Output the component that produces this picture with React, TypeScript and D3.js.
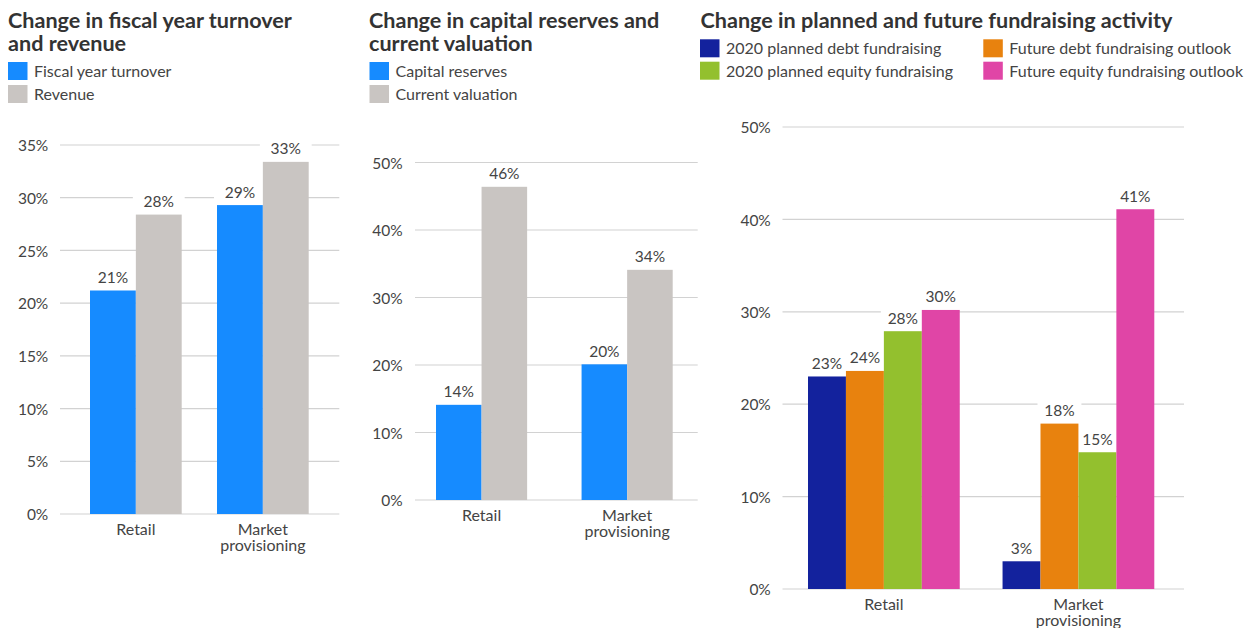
import React from "react";
import * as d3 from "d3";

// ---- Data ----
const categories = ["Retail", "Market provisioning"];

const fiscalTurnover = [21.2, 29.3];
const revenue = [28.4, 33.4];

const capitalReserves = [14.1, 20.1];
const currentValuation = [46.4, 34.1];

const plannedDebt2020 = [23.0, 3.0];
const futureDebtOutlook = [23.6, 17.9];
const plannedEquity2020 = [27.9, 14.8];
const futureEquityOutlook = [30.2, 41.1];

const ticks1 = [0, 5, 10, 15, 20, 25, 30, 35];
const ticks2 = [0, 10, 20, 30, 40, 50];
const ticks3 = [0, 10, 20, 30, 40, 50];

const FONT = "Lato, 'Open Sans', sans-serif";
const TEXT = "#444";

type Series = { name: string; color: string; values: number[] };

type PanelProps = {
  title: string[];
  titleX: number;
  legend: { x: number; y: number; name: string; color: string }[];
  series: Series[];
  ticks: number[];
  yDomain: [number, number];
  yRange: [number, number];
  gridX: [number, number];
  barRange: [number, number];
  paddingInner: number;
  tickX: number;
};

function wrapLabel(c: string): string[] {
  return c === "Market provisioning" ? ["Market", "provisioning"] : [c];
}

function Panel(p: PanelProps) {
  const y = d3.scaleLinear().domain(p.yDomain).range(p.yRange);
  const x0 = d3
    .scaleBand<string>()
    .domain(categories)
    .range(p.barRange)
    .paddingInner(p.paddingInner)
    .paddingOuter(0);
  const x1 = d3
    .scaleBand<string>()
    .domain(p.series.map((s) => s.name))
    .range([0, x0.bandwidth()]);
  const bw = x1.bandwidth();
  const axisY = y(0);

  const marks: { x: number; top: number; v: number; color: string; key: string }[] = [];
  categories.forEach((c, ci) => {
    p.series.forEach((s) => {
      const v = s.values[ci];
      marks.push({
        x: (x0(c) as number) + (x1(s.name) as number),
        top: y(v),
        v,
        color: s.color,
        key: c + s.name,
      });
    });
  });

  return (
    <g>
      {p.title.map((t, i) => (
        <text
          key={t}
          x={p.titleX}
          y={28 + i * 23}
          fontFamily={FONT}
          fontWeight={700}
          fontSize={21.6}
          fill="#333"
        >
          {t}
        </text>
      ))}
      {p.legend.map((l) => (
        <g key={l.name}>
          <rect x={l.x} y={l.y} width={19.5} height={18} fill={l.color} />
          <text x={l.x + 26} y={l.y + 15} fontFamily={FONT} fontSize={16} fill={TEXT}>
            {l.name}
          </text>
        </g>
      ))}
      {p.ticks.map((t) => (
        <g key={t}>
          <line
            x1={p.gridX[0]}
            x2={p.gridX[1]}
            y1={y(t)}
            y2={y(t)}
            stroke="#d2d2d2"
            strokeWidth={1.2}
          />
          <text
            x={p.tickX}
            y={y(t)}
            dy="0.4em"
            textAnchor="end"
            fontFamily={FONT}
            fontSize={15.5}
            fill={TEXT}
          >
            {t + "%"}
          </text>
        </g>
      ))}
      {marks.map((m) => (
        <rect key={"bg" + m.key} x={m.x - 3} y={m.top - 23} width={bw + 6} height={19} fill="#fff" />
      ))}
      {marks.map((m) => (
        <rect key={m.key} x={m.x} y={m.top} width={bw} height={axisY - m.top} fill={m.color} />
      ))}
      {marks.map((m) => (
        <text
          key={"t" + m.key}
          x={m.x + bw / 2}
          y={m.top - 7.5}
          textAnchor="middle"
          fontFamily={FONT}
          fontSize={15.5}
          fill={TEXT}
        >
          {Math.round(m.v) + "%"}
        </text>
      ))}
      {categories.map((c) => (
        <text
          key={c}
          x={(x0(c) as number) + x0.bandwidth() / 2}
          y={axisY + 21}
          textAnchor="middle"
          fontFamily={FONT}
          fontSize={16}
          fill={TEXT}
        >
          {wrapLabel(c).map((line, i) => (
            <tspan key={line} x={(x0(c) as number) + x0.bandwidth() / 2} dy={i === 0 ? 0 : 16}>
              {line}
            </tspan>
          ))}
        </text>
      ))}
    </g>
  );
}

export default function App() {
  const BLUE = "#168BFF";
  const GRAY = "#C9C5C2";
  const NAVY = "#13229D";
  const ORANGE = "#E8820E";
  const GREEN = "#93C02E";
  const PINK = "#E045A6";

  const s1: Series[] = [
    { name: "Fiscal year turnover", color: BLUE, values: fiscalTurnover },
    { name: "Revenue", color: GRAY, values: revenue },
  ];
  const s2: Series[] = [
    { name: "Capital reserves", color: BLUE, values: capitalReserves },
    { name: "Current valuation", color: GRAY, values: currentValuation },
  ];
  const s3: Series[] = [
    { name: "2020 planned debt fundraising", color: NAVY, values: plannedDebt2020 },
    { name: "Future debt fundraising outlook", color: ORANGE, values: futureDebtOutlook },
    { name: "2020 planned equity fundraising", color: GREEN, values: plannedEquity2020 },
    { name: "Future equity fundraising outlook", color: PINK, values: futureEquityOutlook },
  ];

  return (
    <svg
      width={1255}
      height={628}
      style={{ position: "absolute", left: 0, top: 0, background: "#fff" }}
    >
      <Panel
        title={["Change in fiscal year turnover", "and revenue"]}
        titleX={8}
        legend={[
          { x: 8, y: 62, name: s1[0].name, color: BLUE },
          { x: 8, y: 85, name: s1[1].name, color: GRAY },
        ]}
        series={s1}
        ticks={ticks1}
        yDomain={[0, 35]}
        yRange={[514, 145]}
        gridX={[60, 339.3]}
        barRange={[90, 308.7]}
        paddingInner={0.278}
        tickX={48.3}
      />
      <Panel
        title={["Change in capital reserves and", "current valuation"]}
        titleX={369}
        legend={[
          { x: 369.5, y: 62, name: s2[0].name, color: BLUE },
          { x: 369.5, y: 85, name: s2[1].name, color: GRAY },
        ]}
        series={s2}
        ticks={ticks2}
        yDomain={[0, 50]}
        yRange={[500, 162.5]}
        gridX={[415, 697.7]}
        barRange={[436, 672.7]}
        paddingInner={0.374}
        tickX={402.7}
      />
      <Panel
        title={["Change in planned and future fundraising activity"]}
        titleX={700.5}
        legend={[
          { x: 700, y: 39.3, name: s3[0].name, color: NAVY },
          { x: 700, y: 61.7, name: s3[2].name, color: GREEN },
          { x: 983.3, y: 39.3, name: s3[1].name, color: ORANGE },
          { x: 983.3, y: 61.7, name: s3[3].name, color: PINK },
        ]}
        series={s3}
        ticks={ticks3}
        yDomain={[0, 50]}
        yRange={[589, 127]}
        gridX={[782.5, 1184]}
        barRange={[808, 1154.3]}
        paddingInner={0.22}
        tickX={770.8}
      />
    </svg>
  );
}
